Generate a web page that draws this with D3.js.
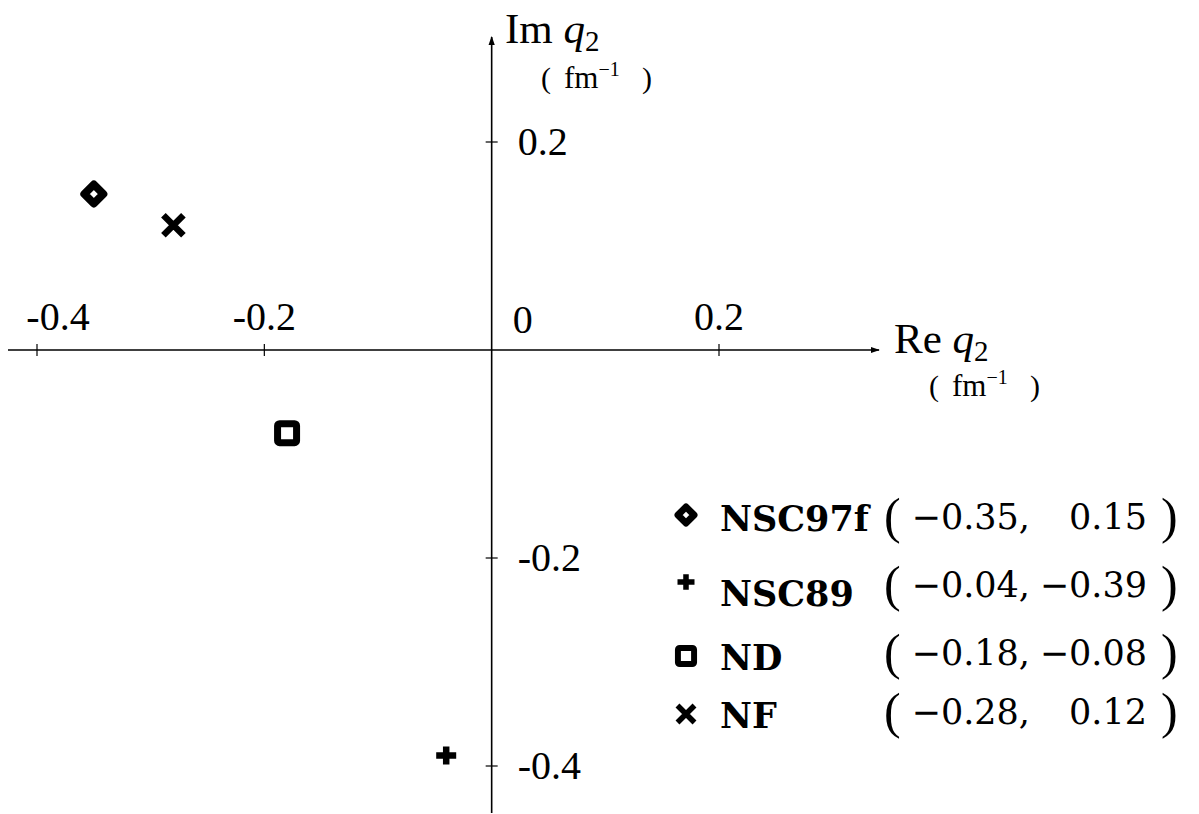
<!DOCTYPE html>
<html><head><meta charset="utf-8">
<script src="https://cdn.jsdelivr.net/npm/d3@7"></script>
<style>html,body{margin:0;padding:0;background:#fff;} svg{display:block;} text{font-family:"Liberation Serif","DejaVu Serif",serif;fill:#000;}</style>
</head><body>
<script>
const models = ["NSC97f", "NSC89", "ND", "NF"];
const reVals = [-0.35, -0.04, -0.18, -0.28];
const imVals = [0.15, -0.39, -0.08, 0.12];
const symbols = ["diamond", "plus", "square", "cross"];
const xTicks = [-0.4, -0.2, 0.2];
const yTicks = [0.2, -0.2, -0.4];
const xTickLabels = ["-0.4", "-0.2", "0.2"];
const yTickLabels = ["0.2", "-0.2", "-0.4"];

const W = 1199, H = 814;
const svg = d3.select("body").append("svg").attr("width", W).attr("height", H);
const x = d3.scaleLinear().domain([-0.4, 0.2]).range([37, 719]);
const y = d3.scaleLinear().domain([-0.4, 0.2]).range([766, 142]);
const x0 = x(0), y0 = y(0);

svg.append("defs").append("marker").attr("id","arr").attr("viewBox","0 0 10 10")
  .attr("refX",9).attr("refY",5).attr("markerWidth",9).attr("markerHeight",9)
  .attr("markerUnits","userSpaceOnUse").attr("orient","auto")
  .append("path").attr("d","M0,1.5 L10,5 L0,8.5 Z").attr("fill","#000");

// axes
svg.append("line").attr("x1", 8).attr("x2", 879).attr("y1", y0).attr("y2", y0)
  .attr("stroke","#000").attr("stroke-width",1.6).attr("marker-end","url(#arr)");
svg.append("line").attr("x1", x0).attr("x2", x0).attr("y1", 813).attr("y2", 37)
  .attr("stroke","#000").attr("stroke-width",1.6).attr("marker-end","url(#arr)");

// ticks
svg.selectAll(".xt").data(xTicks).enter().append("line")
  .attr("x1", d=>x(d)).attr("x2", d=>x(d)).attr("y1", y0-6).attr("y2", y0+6)
  .attr("stroke","#000").attr("stroke-width",1.2);
svg.selectAll(".yt").data(yTicks).enter().append("line")
  .attr("y1", d=>y(d)).attr("y2", d=>y(d)).attr("x1", x0-6).attr("x2", x0+6)
  .attr("stroke","#000").attr("stroke-width",1.2);

const fs = 40;
svg.selectAll(".xl").data(xTicks).enter().append("text")
  .attr("x", (d,i)=> i===0 ? x(d)+21 : x(d)).attr("y", 330)
  .attr("text-anchor","middle").attr("font-size",fs).text((d,i)=>xTickLabels[i]);
svg.append("text").attr("x", x0+31).attr("y", 333).attr("text-anchor","middle").attr("font-size",fs).text("0");
svg.selectAll(".yl").data(yTicks).enter().append("text")
  .attr("x", x0+26).attr("y", d=>y(d)+13)
  .attr("font-size",fs).text((d,i)=>yTickLabels[i]);

// axis labels
function axisLabel(px, py, name, ux, uy) {
  const t = svg.append("text").attr("x", px).attr("y", py).attr("font-size", 43);
  t.append("tspan").text(name + " ");
  t.append("tspan").attr("font-style","italic").text("q");
  t.append("tspan").attr("font-size", 29).attr("dy", 8).text("2");
  svg.append("text").attr("x", ux).attr("y", uy).attr("font-size", 30).text("(");
  const u = svg.append("text").attr("x", ux + 23).attr("y", uy).attr("font-size", 31);
  u.append("tspan").text("fm");
  u.append("tspan").attr("font-size", 20).attr("dy", -12).text("−1");
  svg.append("text").attr("x", ux + 101).attr("y", uy).attr("font-size", 30).text(")");
}
axisLabel(505, 43, "Im", 541, 88);
axisLabel(894, 353, "Re", 929, 396);

// symbol drawing
function drawSym(g, type, cx, cy, k) {
  const s = g.append("g").attr("transform", `translate(${cx},${cy}) scale(${k})`);
  if (type === "diamond") {
    s.append("path").attr("d","M0,-9.5 L9.5,0 L0,9.5 L-9.5,0 Z").attr("fill","none")
      .attr("stroke","#000").attr("stroke-width",8).attr("stroke-linejoin","round");
  } else if (type === "square") {
    s.append("rect").attr("x",-9.5).attr("y",-9.5).attr("width",19).attr("height",19)
      .attr("rx",2).attr("fill","none").attr("stroke","#000").attr("stroke-width",7);
  } else if (type === "plus") {
    s.append("path").attr("d","M-10,0 L10,0 M0,-9 L0,9").attr("stroke","#000").attr("stroke-width",6.5);
  } else if (type === "cross") {
    s.append("path").attr("d","M-10,-10 L10,10 M10,-10 L-10,10").attr("stroke","#000").attr("stroke-width",6.5);
  }
}

const pts = svg.append("g");
models.forEach((m,i)=> drawSym(pts, symbols[i], x(reVals[i]), y(imVals[i]), 1));

// legend
const legRowY = [515, 582, 656, 714];
const legTextY = [531, 606, 670, 728];
const legNumY = [529, 597, 665, 724];
const leg = svg.append("g");
const fmt = v => (v < 0 ? "−" : "") + Math.abs(v).toFixed(2);
const numFont = "'DejaVu Serif', serif";
models.forEach((m,i)=>{
  drawSym(leg, symbols[i], 686, legRowY[i], 0.85);
  leg.append("text").attr("x", 720).attr("y", legTextY[i]).attr("font-size", 35)
    .style("font-family", numFont).attr("font-weight","bold").text(m);
  const cy = legNumY[i];
  leg.append("text").attr("x", 884).attr("y", cy+4).attr("font-size", 50).text("(");
  leg.append("text").attr("x", 1030).attr("y", cy).attr("text-anchor","end").attr("font-size", 35)
    .style("font-family", numFont).text(fmt(reVals[i]) + ",");
  leg.append("text").attr("x", 1147).attr("y", cy).attr("text-anchor","end").attr("font-size", 35)
    .style("font-family", numFont).text(fmt(imVals[i]));
  leg.append("text").attr("x", 1161).attr("y", cy+4).attr("font-size", 50).text(")");
});
</script>
</body></html>
